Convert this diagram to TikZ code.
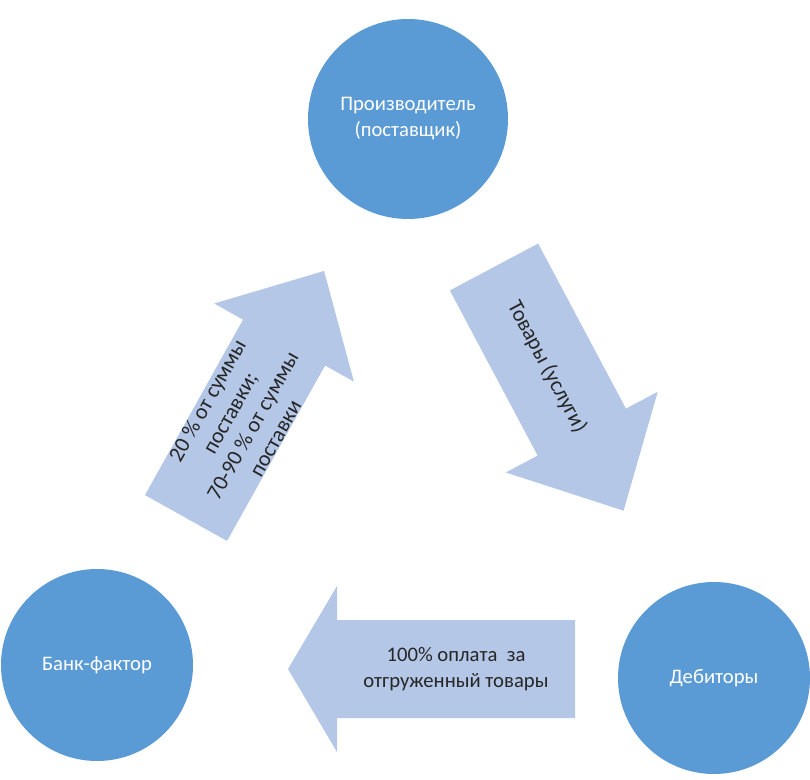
\documentclass[tikz,border=0pt]{standalone}
\usepackage{fontspec}
\setmainfont{Carlito}
\definecolor{partyblue}{HTML}{5B9BD5}
\definecolor{flowblue}{HTML}{B4C7E7}

\begin{document}
\begin{tikzpicture}[x=0.75pt, y=0.75pt,
    party/.style = {circle, fill=partyblue, text=white, inner sep=0pt, align=center,
                    font=\fontsize{15.5}{19.5}\selectfont},
    flow/.style = {fill=flowblue},
    flowtext/.style = {align=center, text=black!85, inner sep=0pt,
                       font=\fontsize{15.5}{19.5}\selectfont},
    tilttext/.style = {flowtext, font=\fontsize{16.5}{19.5}\selectfont}]
    \useasboundingbox (0,0) rectangle (810,779);

    \node[party, minimum size=150pt] (maker) at (408,660) {Производитель\\(поставщик)};
    \node[party, minimum size=144pt] (bank) at (97,114) {Банк-фактор};
    \node[party, minimum size=144pt] (debtor) at (714,101) {Дебиторы};

    % bank -> maker
    \begin{scope}[shift={(186,261)}, rotate=60.8]
        \fill[flow] (0,-47) -- (201,-47) -- (201,-80) -- (283,0) -- (201,80) -- (201,47) -- (0,47) -- cycle;
        \node[tilttext, rotate=60.8] (advance) at (113,0) {20 \% от суммы\\поставки;\\70-90 \% от суммы\\поставки};
    \end{scope}

    % maker -> debtor
    \begin{scope}[shift={(494,512)}, rotate=-62]
        \fill[flow] (0,-50) -- (187,-50) -- (187,-86) -- (276,0) -- (187,86) -- (187,50) -- (0,50) -- cycle;
        \node[tilttext, rotate=-62] (goods) at (113,0) {Товары (услуги)};
    \end{scope}

    % debtor -> bank
    \begin{scope}[shift={(575,110)}, rotate=180]
        \fill[flow] (0,-49) -- (238,-49) -- (238,-83) -- (287,0) -- (238,83) -- (238,49) -- (0,49) -- cycle;
        \node[flowtext] (payment) at (119,0) {100\% оплата\ \ за\\отгруженный товары};
    \end{scope}
\end{tikzpicture}
\end{document}
